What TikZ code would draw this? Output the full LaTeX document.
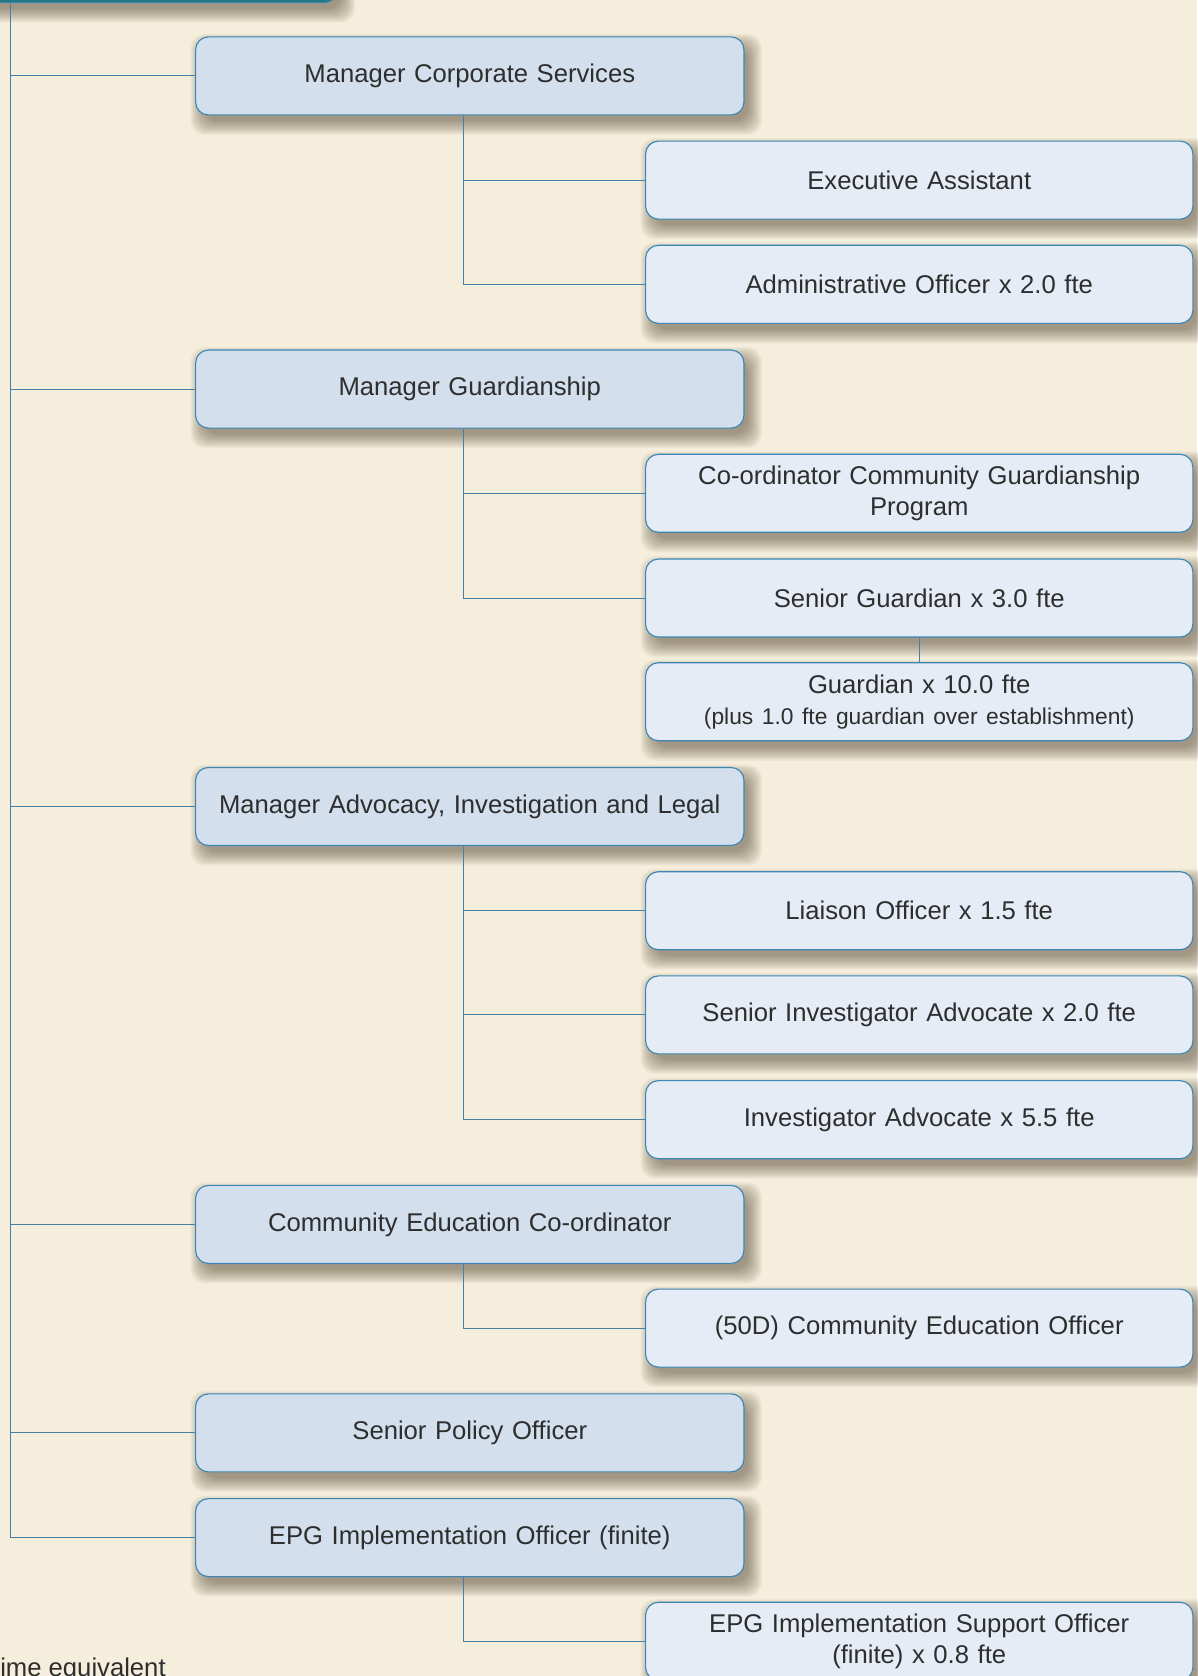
\documentclass[tikz,border=0pt]{standalone}
\usepackage{fontspec}
\setmainfont{Liberation Sans}
\usetikzlibrary{calc}
\definecolor{bgc}{HTML}{F5EEDC}
\definecolor{mgrfill}{HTML}{D3DFEC}
\definecolor{subfill}{HTML}{E5ECF5}
\definecolor{edgec}{HTML}{3C86B5}
\definecolor{connc}{HTML}{4680A8}
\definecolor{txtc}{HTML}{2E2E2E}
\definecolor{topfill}{HTML}{23797F}
\definecolor{topedge}{HTML}{3C86B5}
\definecolor{shadowc}{HTML}{4A3F2A}
\pgfdeclarelayer{bglayer}
\pgfdeclarelayer{shadowlayer}
\pgfdeclarelayer{linelayer}
\pgfsetlayers{bglayer,shadowlayer,linelayer,main}
\tikzset{
  box/.style={draw=edgec, line width=0.8pt, rounded corners=9pt,
    minimum height=54.75pt, text width=370pt, align=center, text=txtc,
    font=\fontsize{18}{21.75}\selectfont, inner sep=0pt},
  mgr/.style={box, fill=mgrfill, minimum width=384.75pt},
  subbox/.style={box, fill=subfill, minimum width=384pt},
  link/.style={draw=connc, line width=0.6pt},
  shadelayer/.style={fill=shadowc, opacity=0.05, rounded corners=10pt}
}
\newcommand\dropshade[1]{%
  \foreach \i in {0,1,...,11}{%
    \pgfmathsetmacro\e{-3+1.2*\i}%
    \fill[shadelayer] ($(#1.north west)+({6-\e},{8-\e})$) rectangle ($(#1.south east)+({6+\e},{8+\e})$);
  }}
\begin{document}
\begin{tikzpicture}[x=0.75pt,y=-0.75pt]
\begin{pgfonlayer}{bglayer}
  \fill[bgc] (0,0) rectangle (1120,1568);
\end{pgfonlayer}
\useasboundingbox (0,0) rectangle (1120,1568);

% top (cut-off) box
\node[draw=topedge, fill=topfill, line width=0.8pt, rounded corners=9pt,
  minimum width=267pt, minimum height=62pt, inner sep=0pt,
  anchor=south east] (top) at (316,3) {};

\coordinate (tt) at (10,0);
\coordinate (bx) at (434,0);

% managers
\node[mgr] (m1) at (439.5,71) {Manager Corporate Services};
\node[mgr] (m2) at (439.5,364) {Manager Guardianship};
\node[mgr] (m3) at (439.5,754.5) {Manager Advocacy, Investigation and Legal};
\node[mgr] (m4) at (439.5,1145.5) {Community Education Co-ordinator};
\node[mgr] (m5) at (439.5,1340.5) {Senior Policy Officer};
\node[mgr] (m6) at (439.5,1438.5) {EPG Implementation Officer (finite)};

% subordinates
\node[subbox] (r1) at (860,168.5) {Executive Assistant};
\node[subbox] (r2) at (860,266) {Administrative Officer x 2.0 fte};
\node[subbox] (r3) at (860,461.5) {Co-ordinator Community Guardianship\\Program};
\node[subbox] (r4) at (860,559.5) {Senior Guardian x 3.0 fte};
\node[subbox] (r5) at (860,656.5) {Guardian x 10.0 fte\\{\fontsize{16}{21}\selectfont (plus 1.0 fte guardian over establishment)}};
\node[subbox] (r6) at (860,852) {Liaison Officer x 1.5 fte};
\node[subbox] (r7) at (860,949.5) {Senior Investigator Advocate x 2.0 fte};
\node[subbox] (r8) at (860,1047.5) {Investigator Advocate x 5.5 fte};
\node[subbox] (r9) at (860,1242.5) {(50D) Community Education Officer};
\node[subbox] (r10) at (860,1535.5) {EPG Implementation Support Officer\\(finite) x 0.8 fte};

% footnote (cut off at the page edge, as in the reference)
\node[anchor=base west, inner sep=0pt, text=txtc, font=\fontsize{18}{21.75}\selectfont] (fn) at (0,1568) {ime equivalent};

\begin{pgfonlayer}{shadowlayer}
  \foreach \n in {top,m1,m2,m3,m4,m5,m6,r1,r2,r3,r4,r5,r6,r7,r8,r9,r10}{\dropshade{\n}}
\end{pgfonlayer}

\begin{pgfonlayer}{linelayer}
  \draw[link] (tt) |- (m6.west);
  \foreach \m in {m1,m2,m3,m4,m5} \draw[link] (\m.west) -- (\m.west -| tt);
  % corporate services
  \draw[link] (m1.south -| bx) |- (r2.west);
  \draw[link] (r1.west) -- (r1.west -| bx);
  % guardianship
  \draw[link] (m2.south -| bx) |- (r4.west);
  \draw[link] (r3.west) -- (r3.west -| bx);
  \draw[link] (r4.south) -- (r5.north);
  % advocacy
  \draw[link] (m3.south -| bx) |- (r8.west);
  \draw[link] (r6.west) -- (r6.west -| bx);
  \draw[link] (r7.west) -- (r7.west -| bx);
  % community education
  \draw[link] (m4.south -| bx) |- (r9.west);
  % EPG
  \draw[link] (m6.south -| bx) |- (r10.west);
\end{pgfonlayer}
\end{tikzpicture}
\end{document}
